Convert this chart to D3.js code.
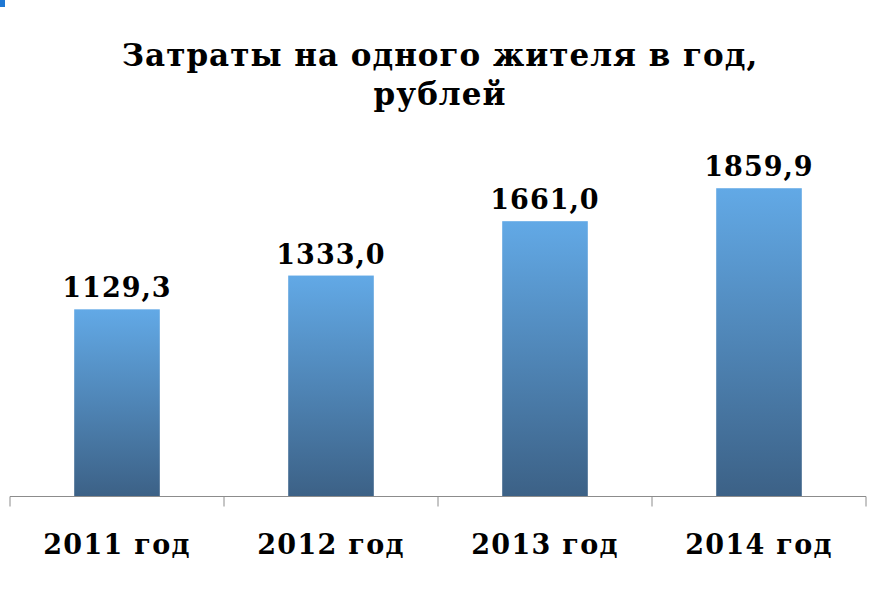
<!DOCTYPE html>
<html><head><meta charset="utf-8">
<script src="https://cdn.jsdelivr.net/npm/d3@7"></script>
<style>body{margin:0;background:#fff}svg{display:block}</style>
</head><body>
<svg id="c" width="870" height="600"></svg>
<script>
const categories = ["2011 год", "2012 год", "2013 год", "2014 год"];
const values = [1129.3, 1333.0, 1661.0, 1859.9];
const valueLabels = ["1129,3", "1333,0", "1661,0", "1859,9"];
const titleLines = ["Затраты на одного жителя в год,", "рублей"];

const svg = d3.select("#c");
const font = "'DejaVu Serif', serif";

svg.append("rect").attr("x",0).attr("y",0).attr("width",5).attr("height",7).attr("fill","#1e78d4");

const defs = svg.append("defs");
const g = defs.append("linearGradient").attr("id","bg").attr("x1",0).attr("y1",0).attr("x2",0).attr("y2",1);
g.append("stop").attr("offset","0%").attr("stop-color","#62a9e6");
g.append("stop").attr("offset","100%").attr("stop-color","#3c6186");

const x = d3.scaleBand().domain(categories).range([10, 866]).paddingInner(0.6).paddingOuter(0.3);
const y = d3.scaleLinear().domain([0, 2000]).range([496.5, 165]);

svg.selectAll("text.title").data(titleLines).join("text")
  .attr("x", 440).attr("y", (d,i) => 66 + i*39)
  .attr("text-anchor","middle").attr("font-family", font).attr("font-weight","bold")
  .attr("font-size", 31).attr("letter-spacing", 1).attr("fill","#000").text(d => d);

svg.selectAll("rect.bar").data(values).join("rect")
  .attr("x", (d,i) => x(categories[i])).attr("width", x.bandwidth())
  .attr("y", d => y(d)).attr("height", d => y(0) - y(d)).attr("fill","url(#bg)");

svg.selectAll("text.val").data(values).join("text")
  .attr("x", (d,i) => x(categories[i]) + x.bandwidth()/2).attr("y", d => y(d) - 12)
  .attr("text-anchor","middle").attr("font-family", font).attr("font-weight","bold")
  .attr("font-size", 27).attr("letter-spacing", 1).attr("fill","#000").text((d,i) => valueLabels[i]);

const axis = d3.axisBottom(x).tickSize(0).tickPadding(33).tickFormat(d => d);
const ax = svg.append("g").attr("transform", `translate(0,${y(0)})`).call(axis);
ax.select(".domain").attr("stroke","#8c8c8c").attr("d", `M10,0H866`);
ax.selectAll("text").attr("font-family", font).attr("font-weight","bold").attr("font-size", 27)
  .attr("letter-spacing", 1.3).attr("fill","#000").attr("dy", "0.9em");

const bounds = [x.range()[0]].concat(categories.map(c => x(c) - x.step()*x.paddingInner()/2 + x.step()));
ax.selectAll("line.tk").data(bounds).join("line").attr("class","tk")
  .attr("x1", d => d).attr("x2", d => d).attr("y1", 0).attr("y2", 10)
  .attr("stroke","#8c8c8c");
</script>
</body></html>
